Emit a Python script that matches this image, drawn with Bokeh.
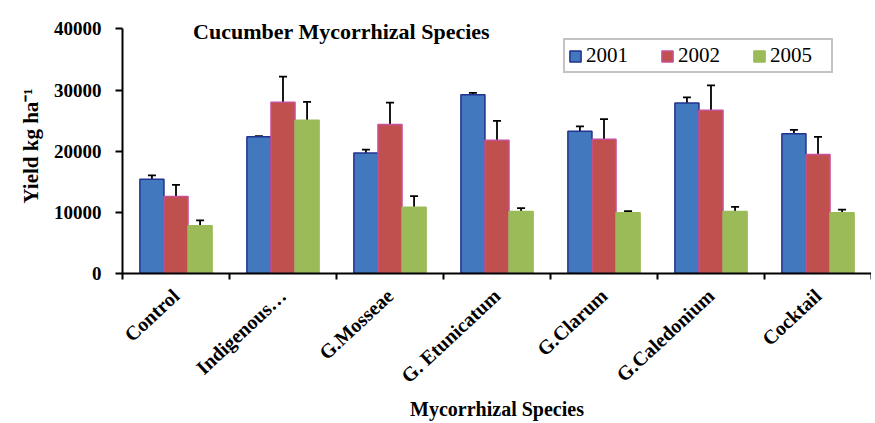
import numpy as np
from bokeh.plotting import figure
from bokeh.models import (ColumnDataSource, Whisker, TeeHead, FixedTicker, Range1d,
                          Legend, LegendItem, Label)
from bokeh.embed import file_html
from bokeh.resources import INLINE

species = ["Control", "Indigenous\u2026", "G.Mosseae", "G. Etunicatum", "G.Clarum",
           "G.Caledonium", "Cocktail"]
years = ["2001", "2002", "2005"]
y2001 = [15400, 22350, 19700, 29250, 23250, 27900, 22850]
e2001 = [650, 100, 550, 300, 800, 900, 650]
y2002 = [12600, 28000, 24350, 21800, 21950, 26700, 19450]
e2002 = [1900, 4200, 3600, 3150, 3300, 4050, 2900]
y2005 = [7800, 25050, 10850, 10150, 9950, 10150, 9950]
e2005 = [900, 3000, 1800, 550, 250, 750, 500]
y_ticks = [0, 10000, 20000, 30000, 40000]
y_max = 40000

FONT = "Liberation Serif"
fills = ["#4178BE", "#C0504D", "#9BBB59"]
lines = ["#22328F", "#C8509A", "#9BBB59"]
offsets = [-0.225, 0.0, 0.225]
bar_w = 0.225

p = figure(width=871, height=423, output_backend="svg", toolbar_location=None,
           x_range=Range1d(0, len(species)), y_range=Range1d(0, 41700),
           min_border_left=122, min_border_right=0, min_border_top=18,
           min_border_bottom=150)
p.outline_line_color = None
p.xgrid.grid_line_color = None
p.ygrid.grid_line_color = None
p.background_fill_color = "white"
p.border_fill_color = "white"

idx = np.arange(len(species))
items = []
for k, (vals, errs) in enumerate([(y2001, e2001), (y2002, e2002), (y2005, e2005)]):
    vals = np.array(vals, dtype=float)
    errs = np.array(errs, dtype=float)
    src = ColumnDataSource(dict(x=idx + 0.5 + offsets[k], top=vals,
                                upper=vals + errs, lower=vals - errs))
    r = p.vbar(x="x", top="top", width=bar_w, source=src, fill_color=fills[k],
               line_color=lines[k], line_width=1.5)
    w = Whisker(source=src, base="x", upper="upper", lower="lower", dimension="height",
                line_color="black", line_width=1.8,
                upper_head=TeeHead(size=8, line_color="black", line_width=1.8),
                lower_head=TeeHead(size=8, line_color="black", line_width=1.8))
    p.add_layout(w)
    items.append(LegendItem(label=years[k], renderers=[r]))

# x axis: labels at category centres, ticks at category boundaries
label_pos = [float(i + 0.5) for i in idx]
xa = p.xaxis[0]
xa.ticker = FixedTicker(ticks=label_pos, minor_ticks=list(range(len(species) + 1)))
xa.major_label_overrides = {pos: s for pos, s in zip(label_pos, species)}
xa.major_label_orientation = 0.75
xa.major_tick_out = 0
xa.major_tick_in = 0
xa.minor_tick_out = 6
xa.minor_tick_in = 0
xa.minor_tick_line_width = 2
xa.minor_tick_line_color = "black"
xa.axis_line_width = 2
xa.axis_line_color = "black"
xa.major_label_text_font = FONT
xa.major_label_text_font_style = "bold"
xa.major_label_text_font_size = "20px"
xa.major_label_text_color = "black"
xa.major_label_standoff = 13
xa.axis_label = "Mycorrhizal Species"
xa.axis_label_text_font = FONT
xa.axis_label_text_font_style = "bold"
xa.axis_label_text_font_size = "20px"
xa.axis_label_text_color = "black"
xa.axis_label_standoff = 0

ya = p.yaxis[0]
ya.ticker = FixedTicker(ticks=y_ticks)
ya.bounds = (0, y_max)
ya.minor_tick_line_color = None
ya.major_tick_out = 7
ya.major_tick_in = 0
ya.major_tick_line_width = 2
ya.major_tick_line_color = "black"
ya.axis_line_width = 2
ya.axis_line_color = "black"
ya.major_label_text_font = FONT
ya.major_label_text_font_style = "bold"
ya.major_label_text_font_size = "19px"
ya.major_label_text_color = "black"
ya.major_label_standoff = 14
ya.axis_label = "Yield kg ha\u207b\u00b9"
ya.axis_label_text_font = FONT
ya.axis_label_text_font_style = "bold"
ya.axis_label_text_font_size = "21px"
ya.axis_label_text_color = "black"
ya.axis_label_standoff = 8

title = Label(x=0.66, y=39500, text="Cucumber Mycorrhizal Species",
              text_font=FONT, text_font_style="bold", text_font_size="22px",
              text_color="black", text_baseline="middle", text_align="left")
p.add_layout(title)

legend = Legend(items=items, location=(441, 200), orientation="horizontal",
                label_text_font=FONT, label_text_font_size="21px",
                label_text_color="black", glyph_width=14, glyph_height=14,
                label_standoff=4, label_width=58, spacing=16, padding=3, margin=0,
                border_line_color="#888888", border_line_width=2,
                background_fill_color="white", background_fill_alpha=1)
p.add_layout(legend)

open("out.html", "w").write(file_html(p, INLINE))
